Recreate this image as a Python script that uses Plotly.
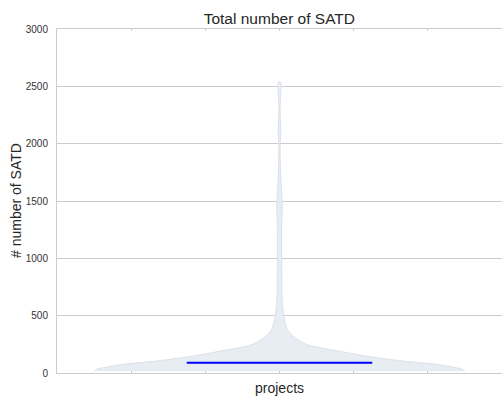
import plotly.graph_objects as go

# Violin profile of SATD counts per project: levels (SATD count) and the
# relative kernel density at each level (1.0 = widest point).
satd_levels = [15, 30, 50, 76, 105, 140, 186, 244, 305, 375, 462, 550, 700,
               900, 1100, 1300, 1450, 1520, 1650, 1850, 2000, 2120, 2220,
               2300, 2420, 2537]
relative_density = [1.0, 0.99, 0.94, 0.845, 0.663, 0.497, 0.337, 0.155,
                    0.086, 0.043, 0.027, 0.019, 0.013, 0.012, 0.011, 0.012,
                    0.015, 0.014, 0.009, 0.004, 0.004, 0.007, 0.005, 0.003,
                    0.006, 0.006]
median_satd = 90

category_position = 1.0
violin_width = 1.0
y_ticks = [0, 500, 1000, 1500, 2000, 2500, 3000]

half = [violin_width / 2 * d for d in relative_density]
left_x = [category_position - h for h in half]
right_x = [category_position + h for h in half]

fig = go.Figure()

fig.add_trace(go.Scatter(
    x=left_x + right_x[::-1],
    y=satd_levels + satd_levels[::-1],
    mode="lines",
    fill="toself",
    fillcolor="rgb(231,237,243)",
    line=dict(color="rgb(212,220,229)", width=0.8, shape="spline", smoothing=0.6),
    hoverinfo="skip",
    showlegend=False,
))

fig.add_trace(go.Scatter(
    x=[category_position - violin_width / 4, category_position + violin_width / 4],
    y=[median_satd, median_satd],
    mode="lines",
    line=dict(color="#0000ff", width=2),
    showlegend=False,
))

fig.update_layout(
    width=502, height=397,
    margin=dict(l=57, r=0, t=29, b=24),
    paper_bgcolor="white",
    plot_bgcolor="white",
    font=dict(family="Liberation Sans, Arial, sans-serif", color="#262626"),
    title=dict(
        text="Total number of SATD",
        x=0.5565, xanchor="center", xref="container",
        y=1 - 19 / 397, yanchor="middle", yref="container",
        font=dict(size=15.5, color="#262626"),
    ),
    showlegend=False,
)

fig.update_xaxes(
    range=[0.4, 1.6],
    tickvals=[0.6, 0.8, 1.0, 1.2, 1.4],
    showticklabels=False,
    ticks="inside", ticklen=2, tickcolor="#cccccc",
    showgrid=False, zeroline=False,
    showline=True, linecolor="#cccccc", linewidth=1, mirror="ticks",
)

fig.update_yaxes(
    range=[0, 3000],
    tickvals=y_ticks,
    ticktext=[str(v) for v in y_ticks],
    tickfont=dict(size=10, color="#333333"),
    ticks="", ticklabelstandoff=6,
    showgrid=True, gridcolor="#cccccc", gridwidth=1,
    zeroline=False,
    showline=True, linecolor="#cccccc", linewidth=1,
)

# Axis titles placed as annotations
fig.add_annotation(
    text="# number of SATD", xref="paper", yref="paper",
    x=(16 - 57) / 445, y=0.5, xanchor="center", yanchor="middle",
    textangle=-90, showarrow=False,
    font=dict(size=14, color="#262626"),
)
fig.add_annotation(
    text="projects", xref="paper", yref="paper",
    x=0.5, y=-6 / 344, xanchor="center", yanchor="top",
    showarrow=False, borderpad=0,
    font=dict(size=14, color="#262626"),
)

fig.write_html("out.html")
